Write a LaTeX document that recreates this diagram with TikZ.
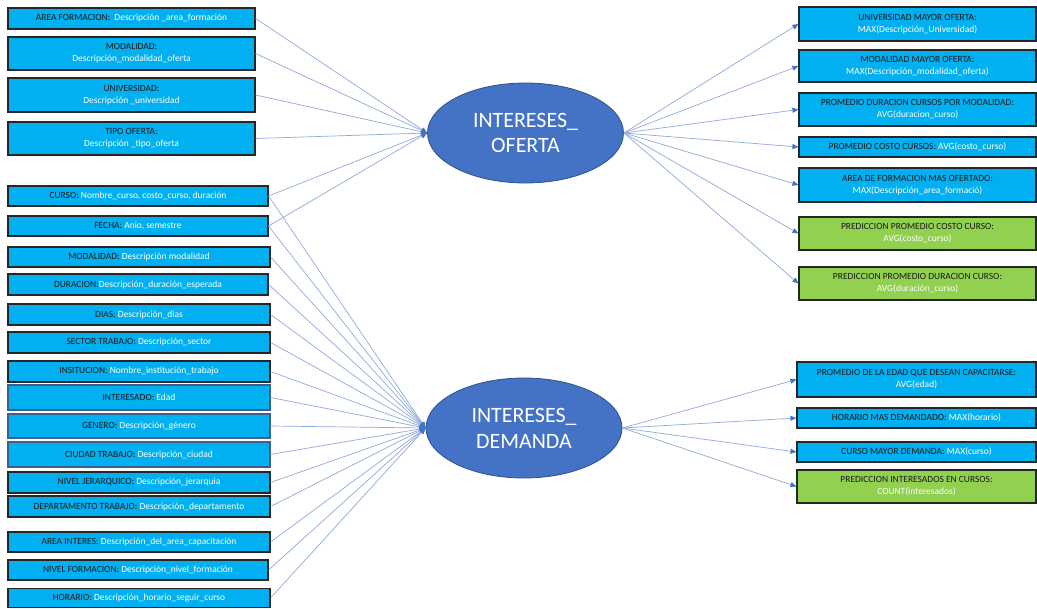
\documentclass[tikz,border=0pt]{standalone}
\usepackage{fontspec}
\setmainfont{Carlito}
\usetikzlibrary{shapes.geometric,arrows.meta}
\definecolor{boxcyan}{HTML}{00B0F0}
\definecolor{boxgreen}{HTML}{92D050}
\definecolor{boxedge}{HTML}{262626}
\definecolor{boxedgeb}{HTML}{3E5F8A}
\definecolor{hubfill}{HTML}{4472C4}
\definecolor{hubedge}{HTML}{2F528F}
\definecolor{linkcol}{HTML}{8FAADC}
\definecolor{tipcol}{HTML}{4472C4}
\definecolor{keytext}{HTML}{1A1A1A}
\newcommand{\keypart}[1]{\textcolor{keytext}{#1}}
\tikzset{
  box/.style={draw=boxedge, line width=1.1bp, fill=boxcyan, inner sep=0pt,
    align=center, text=white, font=\fontsize{9.5}{12}\selectfont},
  lbox/.style={box, minimum width=247bp},
  mbox/.style={box, minimum width=262bp},
  rbox/.style={box, minimum width=237bp},
  gbox/.style={rbox, fill=boxgreen},
  hub/.style={ellipse, draw=hubedge, line width=0.8bp, fill=hubfill, inner sep=0pt,
    minimum width=196bp, minimum height=100bp, align=center, text=white,
    font=\fontsize{22}{26}\selectfont},
  link/.style={draw=linkcol, line width=0.7bp,
    -{Triangle[length=6bp,width=5bp,color=tipcol]}},
}
\begin{document}
\begin{tikzpicture}[x=1bp,y=-1bp]
\fill[white] (0,0) rectangle (1037,609);
\useasboundingbox (0,0) rectangle (1037,609);

% hubs
\node[hub] (of) at (525.5,133) {INTERESES\_\\OFERTA};
\node[hub] (dm) at (524,428) {INTERESES\_\\DEMANDA};

% left-hand attribute boxes
\node[lbox, minimum height=21bp] (l1) at (131.5,18.5) {\keypart{AREA FORMACION:}\ \ Descripción \_area\_formación};
\node[lbox, minimum height=33bp] (l2) at (131.5,53.5) {\keypart{MODALIDAD:}\\Descripción\_modalidad\_oferta};
\node[lbox, minimum height=34bp] (l3) at (131.5,95) {\keypart{UNIVERSIDAD:}\\Descripción \_universidad};
\node[lbox, minimum height=33bp] (l4) at (131.5,138.5) {\keypart{TIPO OFERTA:}\\Descripción \_tipo\_oferta};
\node[mbox, minimum width=260bp, minimum height=20bp] (l5) at (138,196) {\keypart{CURSO:} Nombre\_curso, costo\_curso, duración};
\node[mbox, minimum width=260bp, minimum height=20bp] (l6) at (138,226) {\keypart{FECHA:} Anio, semestre};
\node[mbox, minimum height=20bp] (l7) at (139,257) {\keypart{MODALIDAD:} Descripción modalidad};
\node[mbox, minimum width=260bp, minimum height=21bp] (l8) at (138,284.5) {\keypart{DURACION:}Descripción\_duración\_esperada};
\node[mbox, minimum height=21bp] (l9) at (139,314.5) {\keypart{DIAS:} Descripción\_dias};
\node[mbox, minimum height=21bp] (l10) at (139,342.5) {\keypart{SECTOR TRABAJO:} Descripción\_sector};
\node[mbox, minimum height=21bp] (l11) at (139,371.5) {\keypart{INSITUCION:} Nombre\_institución\_trabajo};
\node[mbox, draw=boxedgeb, minimum height=25bp] (l12) at (139,397.5) {\keypart{INTERESADO:} Edad};
\node[mbox, draw=boxedgeb, minimum height=24bp] (l13) at (139,426) {\keypart{GENERO:} Descripción\_género};
\node[mbox, draw=boxedgeb, minimum height=25bp] (l14) at (139,454.5) {\keypart{CIUDAD TRABAJO:} Descripción\_ciudad};
\node[mbox, minimum height=21bp] (l15) at (139,482.5) {\keypart{NIVEL JERARQUICO:} Descripción\_jerarquia};
\node[mbox, minimum height=21bp] (l16) at (139,506.5) {\keypart{DEPARTAMENTO TRABAJO:} Descripción\_departamento};
\node[mbox, minimum height=20bp] (l17) at (139,542) {\keypart{AREA INTERES:} Descripción\_del\_area\_capacitación};
\node[mbox, minimum width=260bp, minimum height=20bp] (l18) at (138,570) {\keypart{NIVEL FORMACION:} Descripción\_nivel\_formación};
\node[mbox, minimum height=19bp] (l19) at (139,598) {\keypart{HORARIO:} Descripción\_horario\_seguir\_curso};

% right-hand result boxes
\node[rbox, minimum height=34bp] (r1) at (917.5,24) {\keypart{UNIVERSIDAD MAYOR OFERTA:}\\MAX(Descripción\_Universidad)};
\node[rbox, minimum height=32bp] (r2) at (917.5,66) {\keypart{MODALIDAD MAYOR OFERTA:}\\MAX(Descripción\_modalidad\_oferta)};
\node[rbox, minimum height=33bp] (r3) at (917.5,109.5) {\keypart{PROMEDIO DURACION CURSOS POR MODALIDAD:}\\AVG(duracion\_curso)};
\node[rbox, minimum height=20bp] (r4) at (917.5,147) {\keypart{PROMEDIO COSTO CURSOS:} AVG(costo\_curso)};
\node[rbox, minimum height=34bp] (r5) at (917.5,185) {\keypart{AREA DE FORMACION MAS OFERTADO:}\\MAX(Descripción\_area\_formació)};
\node[gbox, minimum height=33bp] (r6) at (917.5,233.5) {\keypart{PREDICCION PROMEDIO COSTO CURSO:}\\AVG(costo\_curso)};
\node[gbox, minimum height=33bp] (r7) at (917.5,283.5) {\keypart{PREDICCION PROMEDIO DURACION CURSO:}\\AVG(duración\_curso)};
\node[rbox, minimum width=239bp, minimum height=35bp] (r8) at (916.5,379.5) {\keypart{PROMEDIO DE LA EDAD QUE DESEAN CAPACITARSE:}\\AVG(edad)};
\node[rbox, minimum width=239bp, minimum height=20bp] (r9) at (916.5,418) {\keypart{HORARIO MAS DEMANDADO:} MAX(horario)};
\node[rbox, minimum width=239bp, minimum height=20bp] (r10) at (916.5,452) {\keypart{CURSO MAYOR DEMANDA:} MAX(curso)};
\node[gbox, minimum width=239bp, minimum height=33bp] (r11) at (916.5,486.5) {\keypart{PREDICCION INTERESADOS EN CURSOS:}\\COUNT(interesados)};

% connectors into the hubs
\foreach \n in {l1,l2,l3,l4,l5,l6}
  \draw[link] (\n.east) -- (of.west);
\foreach \n in {l5,l6,l7,l8,l9,l10,l11,l12,l13,l14,l15,l16,l17,l18,l19}
  \draw[link] (\n.east) -- (dm.west);

% connectors out of the hubs
\foreach \n in {r1,r2,r3,r4,r5,r6,r7}
  \draw[link] (of.east) -- (\n.west);
\foreach \n in {r8,r9,r10,r11}
  \draw[link] (dm.east) -- (\n.west);
\end{tikzpicture}
\end{document}
